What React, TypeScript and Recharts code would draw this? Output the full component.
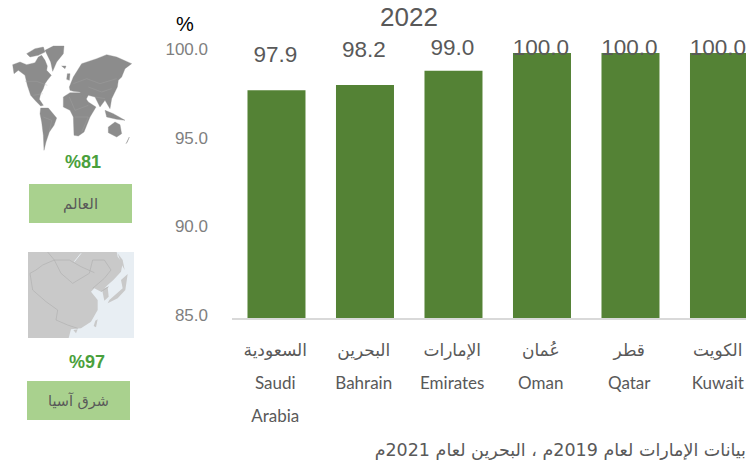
import React from 'react';
import { BarChart, Bar, XAxis, YAxis, LabelList } from 'recharts';

const namesAr = ['السعودية', 'البحرين', 'الإمارات', 'عُمان', 'قطر', 'الكويت'];
const namesEn = [['Saudi', 'Arabia'], ['Bahrain'], ['Emirates'], ['Oman'], ['Qatar'], ['Kuwait']];
const values = [97.9, 98.2, 99.0, 100.0, 100.0, 100.0];
const yTicks = [85, 90, 95, 100];

const chartData = values.map((value, i) => ({ name: namesEn[i].join(' '), value, i }));

const SANS = '"Liberation Sans", Arial, sans-serif';
const ARABIC = '"DejaVu Sans", sans-serif';
const LATIN = 'Lato, sans-serif';

const XTick = ({ x, index }: any) => (
  <g>
    <text x={x - 1} y={356} textAnchor="middle" fontFamily={ARABIC} fontSize={17} fill="#595959">
      {namesAr[index]}
    </text>
    {namesEn[index].map((line, k) => (
      <text key={line} x={x - 1} y={389 + k * 33} textAnchor="middle" fontFamily={LATIN} fontSize={17} fill="#595959">
        {line}
      </text>
    ))}
  </g>
);

const YTick = ({ y, payload }: any) => (
  <text x={208} y={y + 2} textAnchor="end" fontFamily={SANS} fontSize={17} fill="#7f7f7f">
    {payload.value.toFixed(1)}
  </text>
);

// labels sit well above the short bars, and get pushed onto the top of the tall ones
const ValueLabel = ({ x, y, width, value }: any) => (
  <text x={x + width / 2 - 1} y={Math.max(47, y - 36) + 8} textAnchor="middle" fontFamily={SANS} fontSize={22.5} fill="#595959">
    {value.toFixed(1)}
  </text>
);

const WorldMap = () => (
  <svg width={128} height={112} viewBox="0 0 384 336" style={{ position: 'absolute', left: 10, top: 42 }}>
    <g fill="#8c8c8c" stroke="#8c8c8c" strokeWidth={1}>
      <polygon points="8,68 30,60 50,68 75,62 85,45 95,40 105,55 112,72 110,85 124,100 112,115 105,125 100,140 92,155 88,172 100,190 92,192 75,175 62,160 52,130 45,100 25,85 12,95" />
      <polygon points="50,35 75,20 100,15 105,30 85,40 60,45" />
      <polygon points="105,25 130,12 162,12 160,35 140,60 128,88 122,60" />
      <polygon points="92,198 115,198 140,228 132,250 118,270 108,300 102,325 100,280 95,240 90,215" />
      <polygon points="160,165 180,152 215,152 235,180 258,195 240,225 222,270 205,282 192,280 190,225 180,205 160,195" />
      <polygon points="178,135 190,105 215,65 260,50 290,38 320,45 365,65 345,80 335,105 325,115 322,135 305,170 300,200 285,175 270,195 255,165 235,160 225,178 210,150 190,148 180,145" />
      <polygon points="172,95 180,95 178,115 170,112" />
      <polygon points="155,72 168,72 165,80" />
      <polygon points="285,205 310,215 345,235 320,232 290,225" />
      <polygon points="295,255 315,240 330,248 335,275 320,285 295,272" />
      <polygon points="348,305 358,285 352,300" />
    </g>
    <g fill="none" stroke="#a6a6a6" strokeWidth={1}>
      <polyline points="45,118 80,118 112,130" />
      <polyline points="70,160 98,155" />
      <polyline points="100,225 125,235 118,270" />
      <polyline points="178,165 195,205 235,190" />
      <polyline points="195,225 235,225 215,270" />
      <polyline points="190,125 230,110 270,125 320,110" />
      <polyline points="235,135 275,150 305,140" />
      <polyline points="255,165 285,170" />
    </g>
  </svg>
);

const AsiaMap = () => (
  <svg width={106} height={86} viewBox="6 6 318 258" style={{ position: 'absolute', left: 28, top: 252 }}>
    <rect x={6} y={6} width={318} height={258} fill="#e8eef3" />
    <g fill="#c9c9c9">
      <polygon points="6,6 272,6 275,20 290,40 285,65 262,90 245,105 225,125 205,115 195,125 215,150 215,180 195,215 165,235 135,238 128,264 6,264" />
      <polygon points="228,118 245,110 248,140 235,152" />
      <polygon points="305,72 285,90 290,115 250,150 245,160 275,145 298,120" />
      <polygon points="275,10 290,30 296,60 285,40" />
      <polygon points="208,212 215,208 210,232 203,228" />
      <polygon points="142,240 155,238 150,250" />
    </g>
    <g fill="none" stroke="#b0b0b0" strokeWidth={2}>
      <polyline points="12,70 30,60 50,45 85,30 105,70 140,100 190,70 200,30 235,30 255,60 235,85 200,115" />
      <polyline points="12,70 20,120 60,155 95,180 90,210 125,225 155,235" />
      <polyline points="65,6 85,30 130,30 165,50 205,68" />
      <polyline points="225,125 248,110" />
    </g>
    <polyline points="145,35 165,10" fill="none" stroke="#e8eef3" strokeWidth={3} />
  </svg>
);

const label = (text: string, left: number, top: number, width: number, height: number, size: number) => (
  <div
    dir="rtl"
    style={{
      position: 'absolute', left, top, width, height, background: '#a9d18e', color: '#595959',
      fontFamily: ARABIC, fontSize: size, display: 'flex', alignItems: 'center', justifyContent: 'center',
    }}
  >
    {text}
  </div>
);

const pct = (text: string, center: number, top: number) => (
  <div
    style={{
      position: 'absolute', left: center - 40, top, width: 80, textAlign: 'center', color: '#4aa03c',
      fontFamily: SANS, fontWeight: 700, fontSize: 18, lineHeight: '20px',
    }}
  >
    {text}
  </div>
);

export default function App() {
  return (
    <div style={{ position: 'absolute', left: 0, top: 0, width: 746, height: 473, overflow: 'hidden', background: '#fff' }}>
      <BarChart width={763} height={473} data={chartData} margin={{ top: 53, right: 0, bottom: 0, left: 0 }} barCategoryGap="17.5%">
        <YAxis
          domain={[85, 100]}
          ticks={yTicks}
          width={232}
          axisLine={false}
          tickLine={false}
          tick={<YTick />}
          interval={0}
        />
        <XAxis
          dataKey="name"
          height={154}
          axisLine={{ stroke: '#d9d9d9', strokeWidth: 2 }}
          tickLine={false}
          tick={<XTick />}
          interval={0}
        />
        <Bar dataKey="value" fill="#548235" isAnimationActive={false}>
          <LabelList dataKey="value" content={<ValueLabel />} />
        </Bar>
      </BarChart>

      <div style={{ position: 'absolute', left: 369, top: 2, width: 80, textAlign: 'center', fontFamily: SANS, fontSize: 26, lineHeight: '30px', color: '#595959' }}>
        2022
      </div>
      <div style={{ position: 'absolute', left: 176, top: 12, fontFamily: SANS, fontSize: 20, lineHeight: '24px', color: '#000' }}>%</div>

      <WorldMap />
      {pct('%81', 83, 152)}
      {label('العالم', 29, 184, 103, 39, 15)}

      <AsiaMap />
      {pct('%97', 87, 352)}
      {label('شرق آسيا', 27, 381, 103, 39, 14.5)}

      <div dir="rtl" style={{ position: 'absolute', right: 0, top: 438, whiteSpace: 'nowrap', fontFamily: ARABIC, fontSize: 17.5, lineHeight: '24px', color: '#595959' }}>
        بيانات الإمارات لعام 2019م ، البحرين لعام 2021م
      </div>
    </div>
  );
}
